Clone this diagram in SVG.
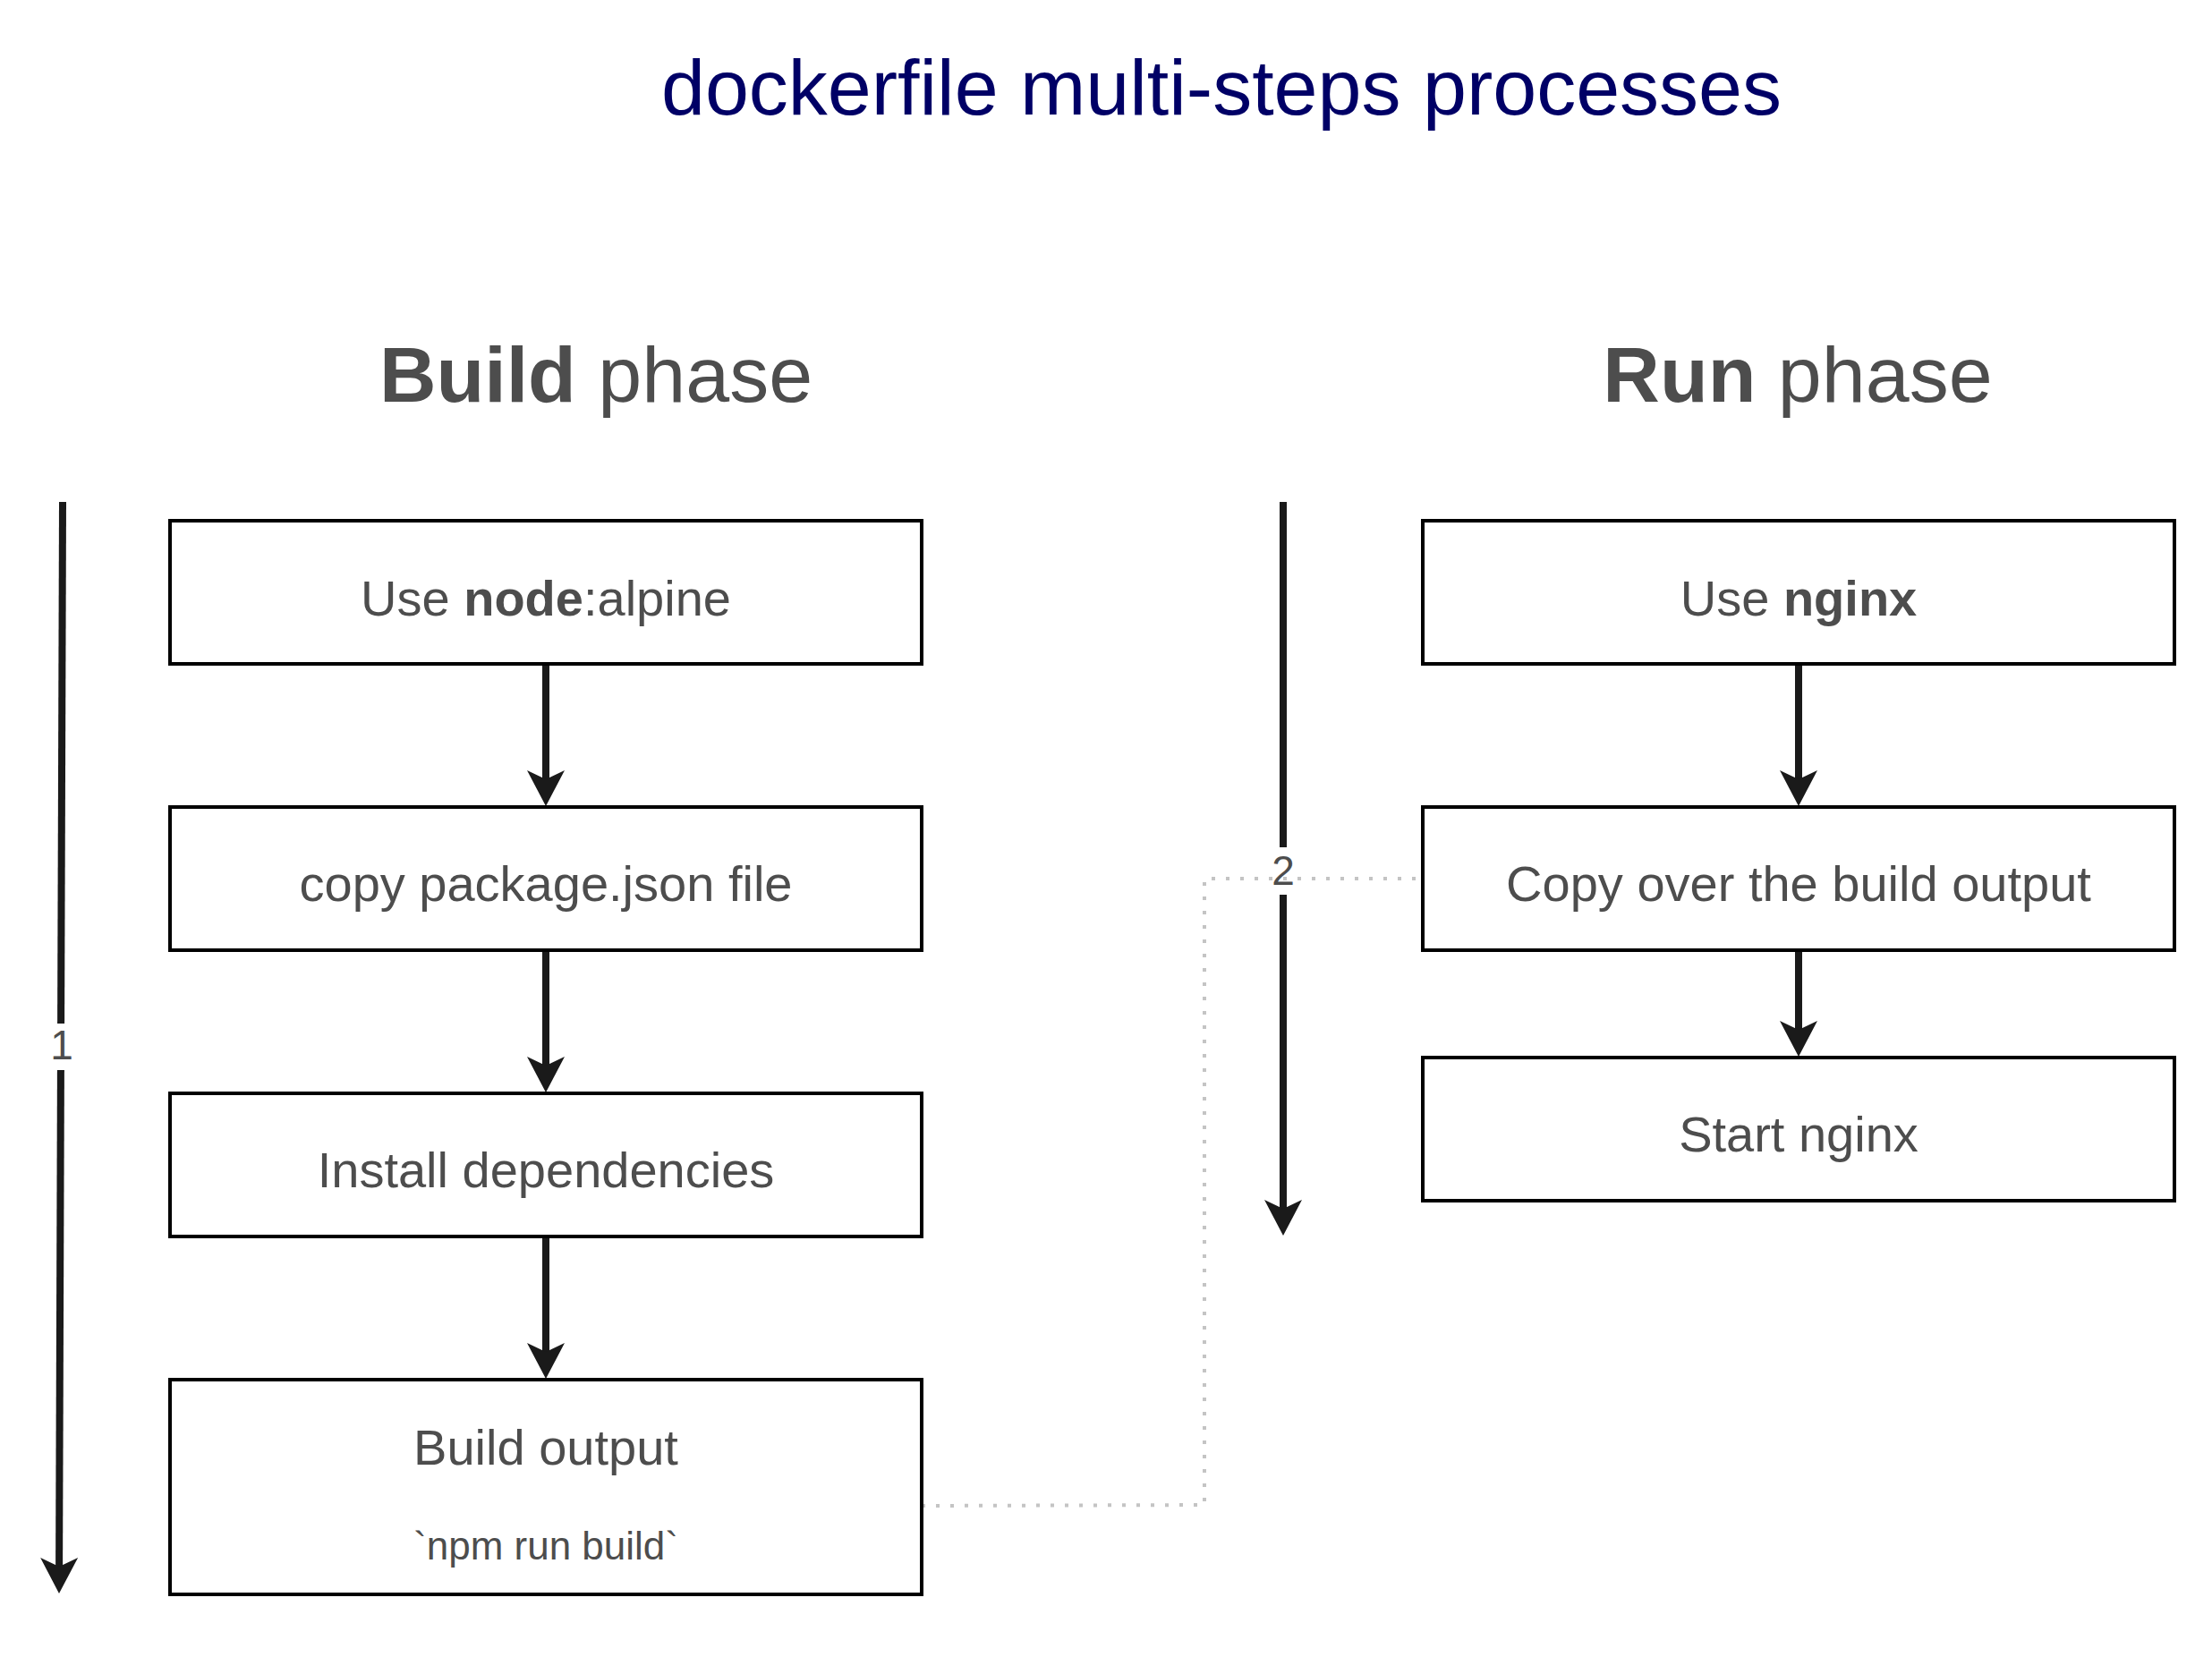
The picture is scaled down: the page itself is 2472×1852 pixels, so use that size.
<svg xmlns="http://www.w3.org/2000/svg" width="2472" height="1852" viewBox="0 0 2472 1852">
  <style>
    text { font-family: "Liberation Sans", Arial, Helvetica, sans-serif; }
    .title { font-size: 88px; fill: #000066; text-anchor: middle; }
    .phase { font-size: 88px; fill: #4D4D4D; text-anchor: middle; }
    .box { fill: #FFFFFF; stroke: #000000; stroke-width: 4; }
    .lbl { font-size: 56px; fill: #4D4D4D; text-anchor: middle; }
    .small { font-size: 44px; fill: #4D4D4D; text-anchor: middle; }
    .arrow { fill: none; stroke: #1A1A1A; stroke-width: 8; }
    .dotted { fill: none; stroke: #C4C4C4; stroke-width: 4; stroke-dasharray: 4 12; }
    .elbl { font-size: 46px; fill: #4D4D4D; text-anchor: middle; }
    .lblbg { fill: #FFFFFF; }
    .b { font-weight: bold; }
  </style>
  <defs>
    <marker id="head" markerUnits="userSpaceOnUse" viewBox="-12 -23 44 46" markerWidth="44" markerHeight="46" refX="0" refY="0" orient="auto">
      <path d="M30,0 L-10,-21 L0,0 L-10,21 Z" fill="#1A1A1A"/>
    </marker>
  </defs>
  <rect width="2472" height="1852" fill="#FFFFFF"/>

  <text class="title" x="1365" y="128">dockerfile multi-steps processes</text>

  <g id="heading-build"><text class="phase" x="666" y="449"><tspan class="b">Build</tspan> phase</text></g>
  <g id="heading-run"><text class="phase" x="2009" y="449"><tspan class="b">Run</tspan> phase</text></g>

  <g id="connectors">
    <path class="arrow" d="M70,561 L66.1,1751" marker-end="url(#head)"/>
    <path class="arrow" d="M1434,561 L1434,1351" marker-end="url(#head)"/>
    <path class="arrow" d="M610,744 L610,871" marker-end="url(#head)"/>
    <path class="arrow" d="M610,1064 L610,1191" marker-end="url(#head)"/>
    <path class="arrow" d="M610,1384 L610,1511" marker-end="url(#head)"/>
    <path class="arrow" d="M2010,744 L2010,871" marker-end="url(#head)"/>
    <path class="arrow" d="M2010,1064 L2010,1151" marker-end="url(#head)"/>
    <rect class="lblbg" x="54" y="1144" width="30" height="52"/>
    <rect class="lblbg" x="1420" y="947" width="28" height="53"/>
    <path class="dotted" d="M1030,1683 L1346,1682 L1346,982 L1590,982"/>
    <text class="elbl" x="69" y="1184">1</text>
    <text class="elbl" x="1434" y="989">2</text>
  </g>

  <g id="node-use-node">
    <rect class="box" x="190" y="582" width="840" height="160"/>
    <text class="lbl" x="610" y="688">Use <tspan class="b">node</tspan>:alpine</text>
  </g>
  <g id="node-copy-package">
    <rect class="box" x="190" y="902" width="840" height="160"/>
    <text class="lbl" x="610" y="1007">copy package.json file</text>
  </g>
  <g id="node-install">
    <rect class="box" x="190" y="1222" width="840" height="160"/>
    <text class="lbl" x="610" y="1327">Install dependencies</text>
  </g>
  <g id="node-build-output">
    <rect class="box" x="190" y="1542" width="840" height="240"/>
    <text class="lbl" x="610" y="1637">Build output</text>
    <text class="small" x="610" y="1743">`npm run build`</text>
  </g>
  <g id="node-use-nginx">
    <rect class="box" x="1590" y="582" width="840" height="160"/>
    <text class="lbl" x="2010" y="688">Use <tspan class="b">nginx</tspan></text>
  </g>
  <g id="node-copy-output">
    <rect class="box" x="1590" y="902" width="840" height="160"/>
    <text class="lbl" x="2010" y="1007">Copy over the build output</text>
  </g>
  <g id="node-start-nginx">
    <rect class="box" x="1590" y="1182" width="840" height="160"/>
    <text class="lbl" x="2010" y="1287">Start nginx</text>
  </g>
</svg>
